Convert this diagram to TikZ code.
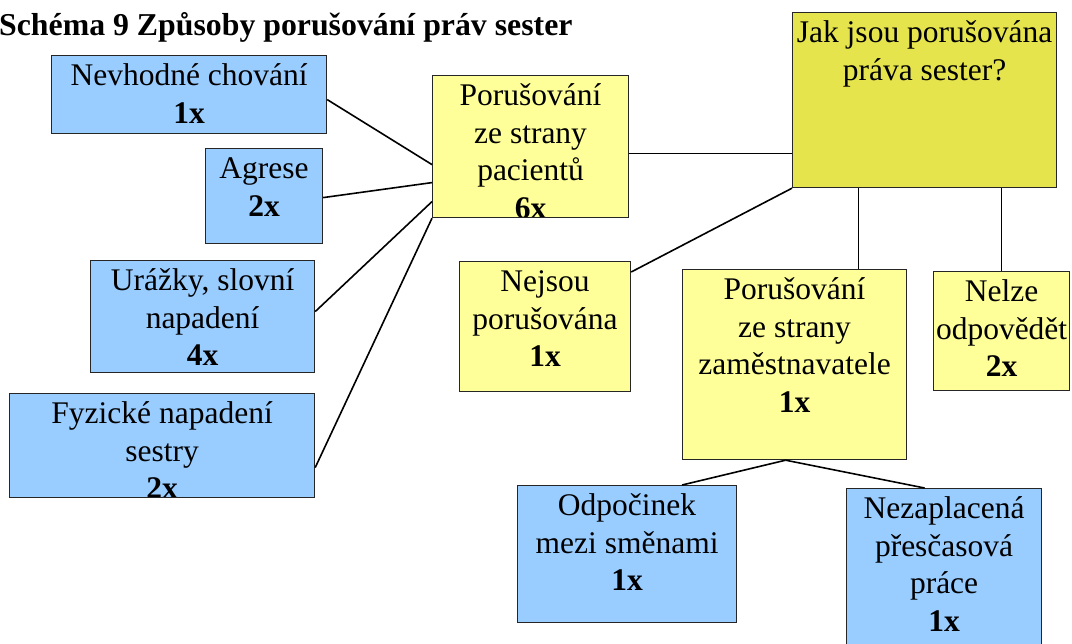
\documentclass[tikz,border=0pt]{standalone}
\usepackage{fontspec}
\setmainfont{Liberation Serif}
\usetikzlibrary{calc}

\definecolor{boxblue}{HTML}{99CCFF}
\definecolor{boxyellow}{HTML}{FFFF99}
\definecolor{rootyellow}{HTML}{E5E44D}
\definecolor{edgegray}{HTML}{262626}

\newcommand\bodyfont{\fontsize{31.5}{37.5}\selectfont}

\tikzset{
  boxtext/.style={anchor=north, inner sep=0pt, outer sep=0pt, align=center, font=\bodyfont,
    text=black, draw=none, fill=none, minimum width=0pt, minimum height=0pt},
  card/.style 2 args={draw=edgegray, line width=1.2pt, inner sep=0pt, anchor=north west,
    minimum width=#1pt, minimum height=#2pt},
  caption/.style={path picture={
    \node[boxtext] at ([yshift=-4pt]path picture bounding box.north) {\rule{0pt}{26pt}#1};}},
  cause/.style={fill=boxblue},
  branch/.style={fill=boxyellow},
  root/.style={fill=rootyellow},
  link/.style={draw=black, line width=1.6pt},
}

\begin{document}
\begin{tikzpicture}[x=1pt,y=-1pt]
\useasboundingbox (0,0) rectangle (1072,644);
\clip (0,0) rectangle (1072,644);
\fill[white] (0,0) rectangle (1072,644);

% heading
\node[anchor=base west, inner sep=0pt, font=\fontsize{31.8}{38}\selectfont\bfseries] (title)
  at (-1,36) {Schéma 9 Způsoby porušování práv sester};

% forms of violation by patients
\node[card={275}{78}, cause, caption={Nevhodné chování\\\textbf{1x}}] (nev) at (51,55) {};
\node[card={117}{95}, cause, caption={Agrese\\\textbf{2x}}] (agr) at (205,148) {};
\node[card={224}{112}, cause, caption={Urážky, slovní\\napadení\\\textbf{4x}}] (ura) at (90,260) {};
\node[card={305}{104}, cause, caption={Fyzické napadení\\sestry\\\textbf{2x}}] (fyz) at (9,393) {};

% central question and its answers
\node[card={196}{142}, branch, caption={Porušování\\ze strany\\pacientů\\\textbf{6x}}] (pac) at (432,75) {};
\node[card={264}{175}, root, caption={Jak jsou porušována\\práva sester?}] (jak) at (792,12) {};
\node[card={171}{130}, branch, caption={Nejsou\\porušována\\\textbf{1x}}] (nej) at (459,261) {};
\node[card={224}{190}, branch, caption={Porušování\\ze strany\\zaměstnavatele\\\textbf{1x}}] (zam) at (682,269) {};
\node[card={136}{119}, branch, caption={Nelze\\odpovědět\\\textbf{2x}}] (nel) at (933,271) {};

% forms of violation by the employer
\node[card={219}{137}, cause, caption={Odpočinek\\mezi směnami\\\textbf{1x}}] (odp) at (517,485) {};
\node[card={195}{175}, cause, caption={Nezaplacená\\přesčasová\\práce\\\textbf{1x}}] (nez) at (846,488) {};

% connectors
\draw[link] ([yshift=-5pt]nev.east) -- ([yshift=-18pt]pac.west);
\draw[link] ([yshift=-1.5pt]agr.east) -- ([yshift=-36pt]pac.west);
\draw[link] ([yshift=5pt]ura.east) -- ([yshift=-55pt]pac.west);
\draw[link] ([yshift=-22pt]fyz.east) -- (pac.south west);

\draw[link] ([yshift=-7pt]pac.east) -- ([yshift=-7pt]pac.east -| jak.west);
\draw[link] (jak.south west) -- ([yshift=-11pt]nej.north east);
\draw[link] ([xshift=64pt]zam.north) -- ([xshift=64pt]zam.north |- jak.south);
\draw[link] (nel.north) -- (nel.north |- jak.south);

\draw[link] ([xshift=-9pt]zam.south) -- ([xshift=55pt]odp.north);
\draw[link] ([xshift=-9pt]zam.south) -- ([xshift=-19.5pt]nez.north);
\end{tikzpicture}
\end{document}
